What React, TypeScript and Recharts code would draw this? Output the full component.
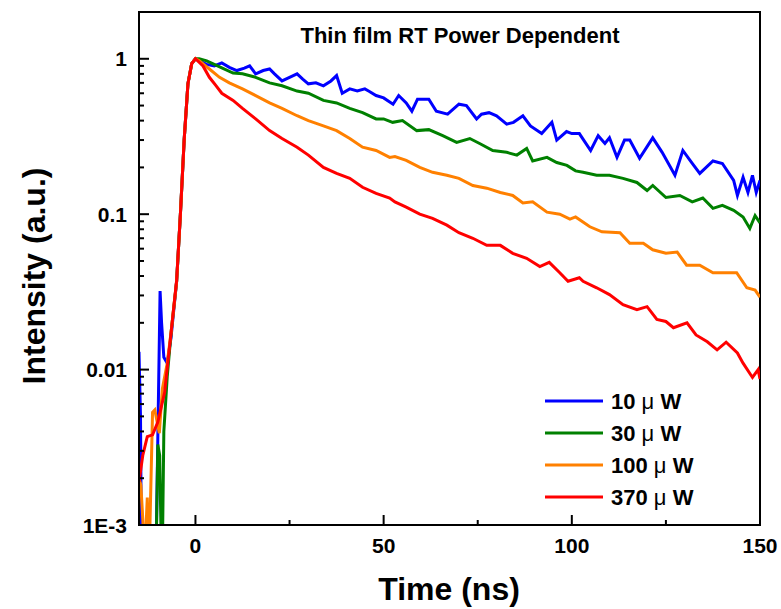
import { LineChart, Line, XAxis, YAxis, ReferenceArea } from "recharts";

const FONT = "Arial, 'Liberation Sans', Helvetica, sans-serif";

// time axis (ns) and normalized PL intensity for each excitation power
const t10 = [-15, -14.6, -14.3, -10.6, -10, -9.4, -9, -8.4, -7.5, -6.5, -5, -4, -3, -2, -1, 0, 1, 3, 5, 7, 9, 11, 13, 14.4, 16, 18, 19.7, 21, 23, 25, 27, 28.5, 30, 32, 34, 36, 37.5, 39, 41, 43, 45, 46, 48, 50, 52.5, 54, 56, 57.5, 59, 62, 64, 67, 70, 72, 74.7, 76, 78, 80, 82.7, 84.5, 87, 89, 92, 94.7, 96, 98.6, 100, 102, 105, 107, 108.8, 110, 112, 114, 115.4, 118, 121.5, 124, 127.4, 129.5, 132, 134, 137.5, 140, 143, 144, 145.5, 146.8, 148, 149, 150];
const i10 = [0.013, 0.005, 0.0004, 0.0004, 0.0036, 0.032, 0.02, 0.012, 0.011, 0.016, 0.037, 0.1, 0.3, 0.69, 0.93, 1, 0.97, 0.92, 0.9, 0.94, 0.88, 0.84, 0.87, 0.9, 0.8, 0.84, 0.86, 0.8, 0.72, 0.76, 0.8, 0.74, 0.69, 0.7, 0.67, 0.72, 0.78, 0.6, 0.64, 0.62, 0.64, 0.62, 0.58, 0.56, 0.51, 0.58, 0.52, 0.46, 0.55, 0.55, 0.46, 0.44, 0.51, 0.5, 0.41, 0.44, 0.45, 0.43, 0.38, 0.39, 0.43, 0.37, 0.33, 0.39, 0.3, 0.34, 0.33, 0.33, 0.257, 0.32, 0.285, 0.31, 0.232, 0.3, 0.3, 0.229, 0.31, 0.25, 0.178, 0.257, 0.212, 0.183, 0.22, 0.212, 0.165, 0.132, 0.173, 0.138, 0.178, 0.138, 0.165];

const t30 = [-15, -10.6, -10, -9.5, -8.9, -8.4, -7.5, -6.4, -5, -4, -3, -2, -1, 0, 1, 3, 5, 7, 10, 12.5, 16, 19.7, 23, 27, 30, 34, 37.5, 41, 44.4, 48, 50, 52.4, 55, 58.8, 62, 65.7, 69.4, 72.9, 75.5, 79, 82.7, 85.4, 88, 89.6, 93.4, 96, 98.7, 101, 103, 106.6, 110, 113.6, 117.3, 120, 121.5, 125, 128.7, 132, 134.8, 137.5, 140, 143, 145.5, 147.3, 148.7, 150];
const i30 = [0.0004, 0.0004, 0.0033, 0.0028, 0.0004, 0.004, 0.009, 0.018, 0.037, 0.1, 0.3, 0.69, 0.93, 1, 1, 0.97, 0.92, 0.875, 0.81, 0.8, 0.76, 0.7, 0.67, 0.62, 0.6, 0.54, 0.52, 0.48, 0.45, 0.41, 0.41, 0.39, 0.4, 0.345, 0.35, 0.32, 0.29, 0.307, 0.285, 0.257, 0.25, 0.24, 0.265, 0.22, 0.232, 0.215, 0.206, 0.19, 0.186, 0.178, 0.178, 0.17, 0.16, 0.142, 0.153, 0.128, 0.132, 0.12, 0.127, 0.109, 0.114, 0.106, 0.096, 0.081, 0.098, 0.088];

const t100 = [-15, -14.5, -14, -13.5, -12.8, -12.3, -11.4, -10.8, -9.6, -8.8, -7.5, -6.4, -5, -4, -3, -2, -1, 0, 1, 3.7, 6.4, 9, 12.5, 16, 19.7, 23, 27, 30, 34, 37.5, 41, 44.4, 48, 51.6, 53, 56, 59.6, 63, 66.8, 70, 73.7, 77.4, 81, 84.3, 87, 89.6, 93.4, 96.8, 99.5, 101, 104.8, 108, 112.8, 115.4, 119, 121.5, 125, 128, 130.5, 134, 137.5, 141, 143.8, 146.5, 148.7, 150];
const i100 = [0.002, 0.0018, 0.0011, 0.0006, 0.0015, 0.0006, 0.0053, 0.0055, 0.0039, 0.0075, 0.011, 0.018, 0.037, 0.1, 0.3, 0.69, 0.93, 1, 0.97, 0.86, 0.76, 0.7, 0.64, 0.58, 0.52, 0.48, 0.43, 0.4, 0.37, 0.345, 0.307, 0.27, 0.257, 0.232, 0.235, 0.222, 0.2, 0.186, 0.178, 0.17, 0.153, 0.147, 0.138, 0.132, 0.118, 0.12, 0.103, 0.1, 0.093, 0.096, 0.083, 0.077, 0.076, 0.065, 0.065, 0.059, 0.056, 0.057, 0.047, 0.047, 0.042, 0.042, 0.042, 0.0336, 0.0325, 0.0292];

const t370 = [-15, -14, -12.8, -11.4, -10, -8.2, -6.4, -5, -4, -3, -2, -1, 0, 2, 3.7, 5.5, 7, 10, 12.5, 16, 19.7, 23, 27, 30, 34, 37.5, 41, 44.4, 48, 51.6, 53, 56, 59.6, 63, 66.8, 70, 73.7, 77.4, 81, 84.3, 88, 91.5, 94, 96.8, 99, 102, 103, 106.6, 110, 113.6, 117.3, 120, 122.6, 125, 127, 130.6, 133, 136, 138.6, 141, 144, 145.5, 148, 149.5, 150];
const i370 = [0.0019, 0.0028, 0.0037, 0.0038, 0.0046, 0.0071, 0.018, 0.0376, 0.1, 0.3, 0.69, 0.93, 1, 0.9, 0.76, 0.67, 0.6, 0.54, 0.48, 0.41, 0.345, 0.307, 0.27, 0.24, 0.2, 0.183, 0.17, 0.149, 0.136, 0.127, 0.12, 0.111, 0.1, 0.094, 0.085, 0.076, 0.07, 0.063, 0.063, 0.056, 0.052, 0.046, 0.049, 0.042, 0.037, 0.039, 0.037, 0.0336, 0.0304, 0.0262, 0.0243, 0.0254, 0.021, 0.0204, 0.0186, 0.02, 0.0167, 0.0151, 0.0134, 0.015, 0.0128, 0.011, 0.0089, 0.01, 0.0087];

const xTicks = [0, 25, 50, 75, 100, 125, 150];
const xMajor = [0, 50, 100, 150];
const yTicks = [
  0.001, 0.002, 0.003, 0.004, 0.005, 0.006, 0.007, 0.008, 0.009,
  0.01, 0.02, 0.03, 0.04, 0.05, 0.06, 0.07, 0.08, 0.09,
  0.1, 0.2, 0.3, 0.4, 0.5, 0.6, 0.7, 0.8, 0.9, 1,
];
const yLabels: Record<string, string> = { "0.001": "1E-3", "0.01": "0.01", "0.1": "0.1", "1": "1" };

const zip = (t: number[], v: number[]) => t.map((x, i) => ({ t: x, v: v[i] }));

const series = [
  { name: "10", color: "#0000ff", data: zip(t10, i10) },
  { name: "30", color: "#008000", data: zip(t30, i30) },
  { name: "100", color: "#ff8000", data: zip(t100, i100) },
  { name: "370", color: "#ff0000", data: zip(t370, i370) },
];

function XTick(props: any) {
  const { x, y, payload } = props;
  const major = xMajor.includes(payload.value);
  return (
    <g>
      <line x1={x} x2={x} y1={y} y2={y - (major ? 10 : 5)} stroke="#000" strokeWidth={2} />
      {major && (
        <text x={x} y={y + 28} textAnchor="middle" fontSize={21} fontWeight="bold" fontFamily={FONT} fill="#000">
          {payload.value}
        </text>
      )}
    </g>
  );
}

function YTick(props: any) {
  const { x, y, payload } = props;
  const label = yLabels[String(payload.value)];
  return (
    <g>
      <line x1={x} x2={x + (label ? 10 : 5)} y1={y} y2={y} stroke="#000" strokeWidth={2} />
      {label && (
        <text x={x - 12} y={y + 7.5} textAnchor="end" fontSize={21} fontWeight="bold" fontFamily={FONT} fill="#000">
          {label}
        </text>
      )}
    </g>
  );
}

export default function App() {
  // fixed to the viewport so the body margin can't push a scrollbar in
  return (
    <div style={{ position: "fixed", left: 0, top: 0, width: 781, height: 609, fontFamily: FONT, background: "#fff" }}>
      <LineChart width={781} height={609} margin={{ top: 12, right: 21, bottom: 0, left: 0 }}>
        <XAxis
          type="number"
          dataKey="t"
          domain={[-15, 150]}
          allowDataOverflow
          ticks={xTicks}
          interval={0}
          tickSize={0}
          tickMargin={0}
          tickLine={false}
          height={84}
          axisLine={{ stroke: "#000", strokeWidth: 2 }}
          tick={XTick}
        />
        <YAxis
          type="number"
          scale="log"
          domain={[0.001, 2]}
          allowDataOverflow
          ticks={yTicks}
          interval={0}
          tickSize={0}
          tickMargin={0}
          tickLine={false}
          width={139}
          axisLine={{ stroke: "#000", strokeWidth: 2 }}
          tick={YTick}
        />
        <ReferenceArea x1={-15} x2={150} y1={0.001} y2={2} fill="none" stroke="#000" strokeWidth={2} ifOverflow="visible" />
        {series.map((s) => (
          <Line
            key={s.name}
            data={s.data}
            dataKey="v"
            type="linear"
            stroke={s.color}
            strokeWidth={3}
            dot={false}
            activeDot={false}
            isAnimationActive={false}
          />
        ))}
      </LineChart>

      <svg width={781} height={609} style={{ position: "absolute", left: 0, top: 0, pointerEvents: "none" }}>
        <text x={460} y={43} textAnchor="middle" fontSize={22} fontWeight="bold" fontFamily={FONT}>
          Thin film RT Power Dependent
        </text>
        <text x={449} y={600} textAnchor="middle" fontSize={32} fontWeight="bold" fontFamily={FONT}>
          Time (ns)
        </text>
        <text x={45} y={276} transform="rotate(-90, 45, 276)" textAnchor="middle" fontSize={32} fontWeight="bold" fontFamily={FONT}>
          Intensity (a.u.)
        </text>
        {series.map((s, i) => (
          <g key={s.name}>
            <line x1={545} x2={603} y1={401 + i * 32} y2={401 + i * 32} stroke={s.color} strokeWidth={3} />
            <text x={611} y={409 + i * 32} fontSize={22} fontWeight="bold" fontFamily={FONT}>
              {s.name} <tspan fontWeight="normal">μ</tspan> W
            </text>
          </g>
        ))}
      </svg>
    </div>
  );
}
